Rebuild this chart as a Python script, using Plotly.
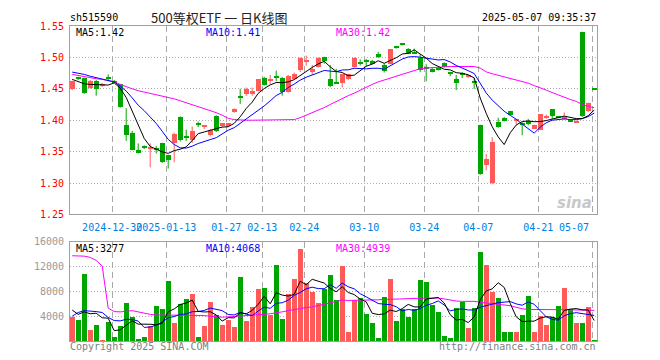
import plotly.graph_objects as go
import pandas as pd
import numpy as np

# ---------------- data ----------------
opens = [1.450,1.467,1.467,1.452,1.463,1.454,1.467,1.463,1.457,1.393,
         1.379,1.352,1.358,1.355,1.354,1.363,1.344,1.363,1.405,1.374,
         1.369,1.396,1.390,1.376,1.407,1.390,1.390,1.413,1.438,1.442,
         1.441,1.446,1.467,1.464,1.469,1.468,1.445,1.466,1.480,1.494,
         1.477,1.485,1.500,1.465,1.459,1.460,1.465,1.485,1.491,1.495,
         1.494,1.505,1.488,1.490,1.516,1.521,1.514,1.507,1.4995,1.483,
         1.482,1.483,1.491,1.4755,1.466,1.473,1.469,1.4615,1.393,1.329,
         1.2995,1.397,1.403,1.414,1.399,1.3953,1.399,1.3865,1.385,1.4036,
         1.4177,1.4047,1.402,1.3995,1.397,1.541,1.414,1.449]
highs = [1.463,1.469,1.468,1.464,1.464,1.459,1.473,1.464,1.458,1.419,
         1.383,1.363,1.360,1.363,1.359,1.364,1.345,1.380,1.406,1.385,
         1.390,1.398,1.391,1.386,1.408,1.395,1.395,1.419,1.450,1.452,
         1.452,1.465,1.469,1.472,1.479,1.469,1.472,1.476,1.500,1.503,
         1.488,1.500,1.501,1.488,1.482,1.474,1.474,1.500,1.497,1.4975,
         1.496,1.509,1.490,1.513,1.517,1.522,1.515,1.514,1.505,1.489,
         1.484,1.484,1.492,1.476,1.472,1.4765,1.471,1.467,1.393,1.346,
         1.373,1.404,1.405,1.415,1.400,1.397,1.402,1.393,1.410,1.409,
         1.418,1.405,1.4125,1.400,1.3995,1.541,1.428,1.449]
lows = [1.448,1.464,1.442,1.450,1.439,1.453,1.462,1.459,1.420,1.367,
        1.352,1.347,1.354,1.325,1.347,1.332,1.323,1.333,1.366,1.367,
        1.364,1.389,1.386,1.374,1.381,1.389,1.389,1.412,1.426,1.439,
        1.439,1.446,1.455,1.457,1.462,1.439,1.444,1.465,1.477,1.487,
        1.472,1.484,1.490,1.4525,1.458,1.452,1.464,1.484,1.487,1.4855,
        1.489,1.499,1.476,1.489,1.514,1.519,1.505,1.506,1.477,1.462,
        1.476,1.479,1.484,1.470,1.448,1.467,1.467,1.450,1.313,1.320,
        1.298,1.388,1.398,1.408,1.393,1.376,1.392,1.386,1.384,1.402,
        1.402,1.403,1.401,1.398,1.396,1.405,1.413,1.449]
closes = [1.462,1.466,1.443,1.463,1.450,1.458,1.466,1.460,1.421,1.376,
          1.353,1.349,1.356,1.357,1.353,1.333,1.337,1.378,1.368,1.372,
          1.383,1.392,1.391,1.384,1.383,1.395,1.395,1.418,1.436,1.449,
          1.446,1.465,1.456,1.465,1.468,1.445,1.471,1.474,1.499,1.495,
          1.481,1.499,1.495,1.455,1.458,1.473,1.473,1.4995,1.490,1.494,
          1.490,1.500,1.479,1.513,1.515,1.520,1.506,1.506,1.480,1.482,
          1.4775,1.481,1.485,1.475,1.460,1.472,1.470,1.460,1.315,1.338,
          1.365,1.389,1.399,1.409,1.3995,1.3927,1.394,1.393,1.410,1.4073,
          1.4068,1.4036,1.4047,1.398,1.3995,1.407,1.427,1.449]
volumes = [3893,3360,10773,1813,2560,200,3093,700,2500,6133,
           3893,400,700,2400,5600,5173,9760,2933,6027,6720,
           7573,700,2400,6240,4160,2560,3467,2240,10293,3307,
           5440,8373,8640,4267,12213,3573,7573,9973,14933,9333,
           8000,6133,8373,10667,6560,12053,1500,6667,7040,4320,
           2880,430,7200,10080,3200,5227,3840,5227,9920,9600,
           5760,4640,750,500,5280,6293,2080,5280,14400,12320,
           8000,7040,1500,1500,1500,4160,7360,1500,4000,2560,
           3840,5600,8640,5120,2960,2880,5440,160]

# moving-average values before the window fills
ma5_head = [1.465, 1.461, 1.458, 1.457]
ma10_head = [1.4766, 1.475, 1.473, 1.470, 1.468, 1.466, 1.463, 1.461, 1.454]
ma30_price = [1.473,1.471,1.469,1.468,1.466,1.465,1.463,1.461,1.457,1.453,
              1.450,1.447,1.445,1.443,1.441,1.439,1.436,1.434,1.431,1.428,
              1.425,1.422,1.419,1.416,1.412,1.408,1.403,1.401,1.400,1.400,
              1.400,1.400,1.400,1.400,1.400,1.400,1.400,1.401,1.404,1.408,
              1.411,1.415,1.420,1.425,1.430,1.434,1.439,1.443,1.448,1.452,
              1.457,1.461,1.464,1.467,1.470,1.473,1.476,1.479,1.482,1.483,
              1.484,1.485,1.485,1.4855,1.4855,1.4855,1.4855,1.4855,1.483,1.477,
              1.474,1.4715,1.469,1.466,1.464,1.462,1.459,1.455,1.452,1.448,
              1.444,1.440,1.437,1.433,1.430,1.425,1.422,1.420]
vol_ma5_head = [5000, 4300, 4700, 4400]
vol_ma10_head = [4000, 4600, 4900, 4850, 4750, 4600, 3800, 3300, 3250]
vol_ma30 = [13760,13760,13700,13500,13000,12100,5300,4750,4700,4800,
            4900,4700,4450,4300,4200,4160,4160,4160,4160,4160,
            4160,4160,4100,4000,3900,3850,3900,3950,4050,4150,
            4160,4200,4300,4400,4500,4700,4900,5100,5300,5400,
            5500,5700,5900,6100,6300,6600,6550,6550,6600,6600,
            6650,6650,6700,6750,6800,6850,6900,6930,6930,6930,
            6930,6930,6800,6600,6450,6400,6400,6400,6250,6150,
            6100,6000,5900,5700,5450,5200,5100,5070,5070,5070,
            5070,5060,5060,5050,5050,5050,5000,4939]

# legend readouts shown in the picture
price_legend = ["MA5:1.42", "MA10:1.41", "MA30:1.42"]
vol_legend = ["MA5:3277", "MA10:4068", "MA30:4939"]

tick_idx = [7, 16, 26, 32, 39, 49, 59, 68, 78, 87]
tick_text = ["2024-12-30", "2025-01-13", "01-27", "02-13", "02-24",
             "03-10", "03-24", "04-07", "04-21", "05-07"]
price_ticks = [1.25, 1.30, 1.35, 1.40, 1.45, 1.50, 1.55]
vol_ticks = [4000, 8000, 12000, 16000]

# ---------------- derived ----------------
n = len(closes)
idx = list(range(n))


def moving_avg(vals, win, head):
    s = pd.Series(vals, dtype=float).rolling(win).mean().to_numpy()
    s[:win - 1] = head
    return s


ma5 = moving_avg(closes, 5, ma5_head)
ma10 = moving_avg(closes, 10, ma10_head)
vma5 = moving_avg(volumes, 5, vol_ma5_head)
vma10 = moving_avg(volumes, 10, vol_ma10_head)

RED = "#FF5A5A"
GREEN = "#00A600"
colors = [RED if c > o else GREEN for o, c in zip(opens, closes)]
MINH = 0.0016
body_base = [min(o, c) for o, c in zip(opens, closes)]
body_h = [max(abs(c - o), MINH) for o, c in zip(opens, closes)]

fig = go.Figure()

# wicks
for col in (RED, GREEN):
    xs, ys = [], []
    for i in idx:
        if colors[i] == col and highs[i] - lows[i] > 0.0005:
            xs += [i, i, None]
            ys += [lows[i], highs[i], None]
    fig.add_trace(go.Scatter(x=xs, y=ys, mode="lines", line=dict(color=col, width=1),
                             hoverinfo="skip", xaxis="x", yaxis="y"))

# bodies
fig.add_trace(go.Bar(x=idx, y=body_h, base=body_base, width=5 / 6,
                     marker=dict(color=colors, line=dict(width=0)),
                     xaxis="x", yaxis="y"))

# price MAs
fig.add_trace(go.Scatter(x=idx, y=ma30_price, mode="lines", line=dict(color="#FF00FF", width=1),
                         xaxis="x", yaxis="y"))
fig.add_trace(go.Scatter(x=idx, y=ma10, mode="lines", line=dict(color="#0000FF", width=1),
                         xaxis="x", yaxis="y"))
fig.add_trace(go.Scatter(x=idx, y=ma5, mode="lines", line=dict(color="#000000", width=1),
                         xaxis="x", yaxis="y"))

# volume
fig.add_trace(go.Bar(x=idx, y=volumes, width=5 / 6,
                     marker=dict(color=colors, line=dict(width=0)),
                     xaxis="x2", yaxis="y2"))
fig.add_trace(go.Scatter(x=idx, y=vol_ma30, mode="lines", line=dict(color="#FF00FF", width=1),
                         xaxis="x2", yaxis="y2"))
fig.add_trace(go.Scatter(x=idx, y=vma10, mode="lines", line=dict(color="#0000FF", width=1),
                         xaxis="x2", yaxis="y2"))
fig.add_trace(go.Scatter(x=idx, y=vma5, mode="lines", line=dict(color="#000000", width=1),
                         xaxis="x2", yaxis="y2"))

MONO = "DejaVu Sans Mono"
xr = [-0.367, 87.467]
grid_x = [t - 0.33 for t in tick_idx]
label_text = tick_text[:-1] + [""]

common_x = dict(range=xr, showline=True, mirror=True, linecolor="#A0A0A0", linewidth=1,
                showgrid=True, gridcolor="#A8A8A8", griddash="6px,4px", gridwidth=1,
                zeroline=False, tickmode="array", tickvals=grid_x, ticks="", fixedrange=True,
                tickangle=0)

# The page body adds an 8px offset; the figure is laid out so that the
# plot areas land where they are in the reference.
OFF = 8
PL, PR, PT, PB = 70, 597, 20, 341          # plot area in page pixels
fig.update_layout(
    width=660, height=360,
    margin=dict(l=PL - OFF, r=660 - (PR - OFF), t=PT - OFF, b=360 - (PB - OFF)),
    paper_bgcolor="white", plot_bgcolor="white",
    showlegend=False, barmode="overlay", bargap=0,
    xaxis=dict(common_x, domain=[0, 1], anchor="y", ticktext=label_text,
               tickfont=dict(family=MONO, size=10, color="#0080E0"), ticklabelstandoff=4),
    xaxis2=dict(common_x, domain=[0, 1], anchor="y2", showticklabels=False),
    yaxis=dict(domain=[(PB - 212) / (PB - PT), 1], range=[1.25, 1.55], tickmode="array",
               tickvals=price_ticks, ticktext=[f"{v:.2f}" for v in price_ticks],
               showline=True, mirror=True, linecolor="#A0A0A0", linewidth=1,
               showgrid=True, gridcolor="#B0B0B0", griddash="1px,2px", gridwidth=1,
               zeroline=False, ticks="", ticklabelstandoff=3,
               tickfont=dict(family=MONO, size=10, color="#FF0000"), fixedrange=True),
    yaxis2=dict(domain=[0, (PB - 240) / (PB - PT)], range=[0, 16000], tickmode="array",
                tickvals=vol_ticks, ticktext=[str(v) for v in vol_ticks],
                showline=True, mirror=True, linecolor="#A0A0A0", linewidth=1,
                showgrid=True, gridcolor="#B0B0B0", griddash="1px,2px", gridwidth=1,
                zeroline=False, ticks="", ticklabelstandoff=3,
                tickfont=dict(family=MONO, size=10, color="#999999"), fixedrange=True),
)

W = PR - PL
H = PB - PT


def px(x):
    return (x - PL) / W


def py(y):
    return (PB - y) / H


ann = []


def add_text(text, x, y, color, size=10, family=MONO, xanchor="left"):
    ann.append(dict(text=text, x=px(x), y=py(y), xref="paper", yref="paper",
                    xanchor=xanchor, yanchor="middle", showarrow=False,
                    font=dict(family=family, size=size, color=color)))


add_text("sh515590", 68, 11, "#000000")
add_text("500等权ETF 一 日K线图", 149, 11, "#222222", size=13, family="Noto Sans CJK SC")
add_text("2025-05-07 09:35:37", 598, 11, "#000000", xanchor="right")

for t, x, c in zip(price_legend, [74, 204, 334], ["#000000", "#0000FF", "#FF00FF"]):
    add_text(t, x, 27, c)
for t, x, c in zip(vol_legend, [74, 204, 334], ["#000000", "#0000FF", "#FF00FF"]):
    add_text(t, x, 246.5, c)

# last x label sits flush with the right frame
ann.append(dict(text=tick_text[-1], x=1, y=py(225.5), xref="x domain", yref="paper",
                xanchor="right", yanchor="middle", xshift=-6, showarrow=False,
                font=dict(family=MONO, size=10, color="#0080E0")))

add_text("Copyright 2025 SINA.COM", 68, 347, "#808080")
add_text("http://finance.sina.com.cn", 598, 347, "#808080", xanchor="right")

add_text("<b><i>sina</i></b>", 594, 200, "#C8C8C8", size=15, family="DejaVu Sans", xanchor="right")

fig.update_layout(annotations=ann)

fig.write_html("out.html")
